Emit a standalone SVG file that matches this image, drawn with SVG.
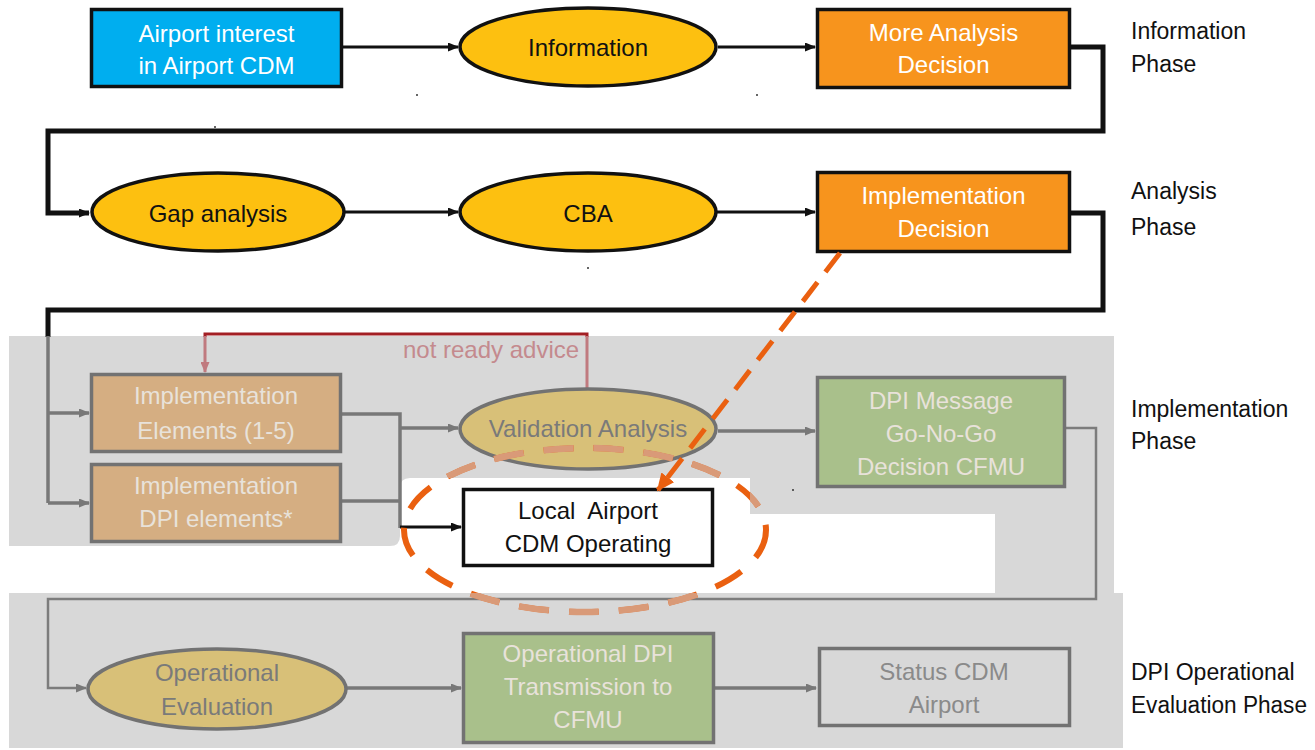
<svg xmlns="http://www.w3.org/2000/svg" width="1315" height="750" viewBox="0 0 1315 750">
  <style>
    text { font-family: "Liberation Sans", Arial, sans-serif; font-size: 24px; text-anchor: middle; }
    .phase { text-anchor: start; fill: #111; font-size: 23px; }
    .w { fill: #ffffff; }
    .k { fill: #111111; }
    .fade-light { fill: #e8e2da; }
    .fade-dark { fill: #7a7a7a; }
    .fade-red { fill: #c48a8e; text-anchor: start; }
    .box { stroke: #111; stroke-width: 3.5; }
    .fbox { stroke: #727272; stroke-width: 3.5; }
    .link { fill: none; stroke: #111; stroke-width: 3; }
    .loop { fill: none; stroke: #111; stroke-width: 5; }
    .flink { fill: none; stroke: #787878; stroke-width: 3.5; }
    .flink-thin { fill: none; stroke: #7c7c7c; stroke-width: 2.5; }
    .panel { fill: #d8d8d8; }
  </style>
  <defs>
    <marker id="arrow-black" markerUnits="userSpaceOnUse" markerWidth="11" markerHeight="9" refX="10" refY="4.5" orient="auto">
      <path d="M0,0 L11,4.5 L0,9 z" fill="#111"/>
    </marker>
    <marker id="arrow-grey" markerUnits="userSpaceOnUse" markerWidth="11" markerHeight="9" refX="10" refY="4.5" orient="auto">
      <path d="M0,0 L11,4.5 L0,9 z" fill="#787878"/>
    </marker>
    <marker id="arrow-red" markerUnits="userSpaceOnUse" markerWidth="11" markerHeight="9" refX="10" refY="4.5" orient="auto">
      <path d="M0,0 L11,4.5 L0,9 z" fill="#c07a7f"/>
    </marker>
    <marker id="arrow-orange" markerUnits="userSpaceOnUse" markerWidth="18" markerHeight="16" refX="16" refY="8" orient="auto">
      <path d="M0,0 L18,8 L0,16 z" fill="#ea6010"/>
    </marker>
    <clipPath id="panel-clip">
      <path d="M9,336 H1114 V594 H995 V514 H750 V478 H410 Q400,478 400,488 V536 Q400,546 390,546 H9 Z"/>
      <rect x="9" y="593" width="1114" height="155"/>
    </clipPath>
  </defs>

  <!-- phase backgrounds -->
  <g id="panels">
    <path class="panel" d="M9,336 H1114 V594 H995 V514 H750 V478 H410 Q400,478 400,488 V536 Q400,546 390,546 H9 Z"/>
    <rect class="panel" x="9" y="593" width="1114" height="155"/>
  </g>

  <!-- phase labels -->
  <g id="phase-labels">
    <text class="phase" x="1131" y="39">Information</text>
    <text class="phase" x="1131" y="72">Phase</text>
    <text class="phase" x="1131" y="199">Analysis</text>
    <text class="phase" x="1131" y="235">Phase</text>
    <text class="phase" x="1131" y="417">Implementation</text>
    <text class="phase" x="1131" y="449">Phase</text>
    <text class="phase" x="1131" y="680">DPI Operational</text>
    <text class="phase" x="1131" y="713" textLength="176" lengthAdjust="spacingAndGlyphs">Evaluation Phase</text>
  </g>

  <!-- connectors -->
  <g id="connectors">
    <!-- information row -->
    <line class="link" x1="343" y1="47" x2="458" y2="47" marker-end="url(#arrow-black)"/>
    <line class="link" x1="718" y1="47" x2="815" y2="47" marker-end="url(#arrow-black)"/>
    <path class="loop" d="M1071,47 H1103 V131 H48 V213 H89" marker-end="url(#arrow-black)"/>
    <!-- analysis row -->
    <line class="link" x1="345" y1="212" x2="458" y2="212" marker-end="url(#arrow-black)"/>
    <line class="link" x1="717" y1="212" x2="815" y2="212" marker-end="url(#arrow-black)"/>
    <path class="loop" d="M1071,213 H1103 V310 H48 V337"/>
    <!-- implementation row (faded) -->
    <path class="flink" d="M48,336 V503"/>
    <line class="flink" x1="48" y1="413" x2="89" y2="413" marker-end="url(#arrow-grey)"/>
    <line class="flink" x1="48" y1="503" x2="89" y2="503" marker-end="url(#arrow-grey)"/>
    <path class="flink" d="M342,414 H400 V528"/>
    <line class="flink" x1="342" y1="501" x2="400" y2="501"/>
    <line class="flink" x1="400" y1="428" x2="458" y2="428" marker-end="url(#arrow-grey)"/>
    <line class="link" x1="400" y1="527" x2="461" y2="527" marker-end="url(#arrow-black)"/>
    <line class="flink" x1="718" y1="431" x2="815" y2="431" marker-end="url(#arrow-grey)"/>
    <!-- not ready advice feedback -->
    <path fill="none" stroke="#a31f24" stroke-width="3" d="M587,337 V334 H205 V337"/>
    <path fill="none" stroke="#c07a7f" stroke-width="3" d="M587,388 V336 M205,336 V372" marker-end="url(#arrow-red)"/>
    <!-- towards operational evaluation -->
    <path class="flink-thin" d="M1066,428 H1096 V599 H48 V688 H86" marker-end="url(#arrow-grey)"/>
    <line class="flink" x1="347" y1="688" x2="461" y2="688" marker-end="url(#arrow-grey)"/>
    <line class="flink" x1="715" y1="688" x2="816" y2="688" marker-end="url(#arrow-grey)"/>
  </g>

  <!-- nodes -->
  <g id="node-airport-interest">
    <rect class="box" x="91.5" y="9.5" width="250" height="77" fill="#00aeef"/>
    <text class="w" x="216.5" y="42">Airport interest</text>
    <text class="w" x="216.5" y="74">in Airport CDM</text>
  </g>
  <g id="node-information">
    <ellipse class="box" cx="588" cy="47" rx="128" ry="39" fill="#fdc010"/>
    <text class="k" x="588" y="56">Information</text>
  </g>
  <g id="node-more-analysis">
    <rect class="box" x="817.5" y="9.5" width="252" height="78" fill="#f7941d"/>
    <text class="w" x="943.5" y="41">More Analysis</text>
    <text class="w" x="943.5" y="73">Decision</text>
  </g>
  <g id="node-gap-analysis">
    <ellipse class="box" cx="218" cy="212" rx="126" ry="39" fill="#fdc010"/>
    <text class="k" x="218" y="222">Gap analysis</text>
  </g>
  <g id="node-cba">
    <ellipse class="box" cx="588" cy="212" rx="128" ry="39" fill="#fdc010"/>
    <text class="k" x="588" y="222">CBA</text>
  </g>
  <g id="node-implementation-decision">
    <rect class="box" x="817.5" y="172.5" width="252" height="79" fill="#f7941d"/>
    <text class="w" x="943.5" y="204">Implementation</text>
    <text class="w" x="943.5" y="237">Decision</text>
  </g>
  <g id="node-implementation-elements">
    <rect class="fbox" x="91.5" y="374.5" width="249" height="77" fill="#d5ae82"/>
    <text class="fade-light" x="216" y="404">Implementation</text>
    <text class="fade-light" x="216" y="439">Elements (1-5)</text>
  </g>
  <g id="node-dpi-elements">
    <rect class="fbox" x="91.5" y="464.5" width="249" height="77" fill="#d5ae82"/>
    <text class="fade-light" x="216" y="494">Implementation</text>
    <text class="fade-light" x="216" y="527">DPI elements*</text>
  </g>
  <g id="node-validation">
    <ellipse class="fbox" cx="588" cy="429" rx="128" ry="40" fill="#d8c078"/>
    <text class="fade-dark" x="588" y="437">Validation Analysis</text>
  </g>
  <g id="node-local-airport">
    <rect class="box" x="463.5" y="489.5" width="249" height="76" fill="#ffffff"/>
    <text class="k" x="588" y="519" font-size="23" xml:space="preserve">Local  Airport</text>
    <text class="k" x="588" y="552" font-size="23">CDM Operating</text>
  </g>
  <g id="node-dpi-message">
    <rect class="fbox" x="817.5" y="377.5" width="247" height="109" fill="#a9c08b"/>
    <text class="fade-light" x="941" y="409">DPI Message</text>
    <text class="fade-light" x="941" y="442">Go-No-Go</text>
    <text class="fade-light" x="941" y="475">Decision CFMU</text>
  </g>
  <g id="node-operational-evaluation">
    <ellipse class="fbox" cx="217" cy="689" rx="129" ry="40" fill="#d8c078"/>
    <text class="fade-dark" x="217" y="681">Operational</text>
    <text class="fade-dark" x="217" y="715">Evaluation</text>
  </g>
  <g id="node-operational-dpi">
    <rect class="fbox" x="463.5" y="633.5" width="250" height="109" fill="#a9c08b"/>
    <text class="fade-light" x="588" y="662">Operational DPI</text>
    <text class="fade-light" x="588" y="695">Transmission to</text>
    <text class="fade-light" x="588" y="728">CFMU</text>
  </g>
  <g id="node-status">
    <rect class="fbox" x="819.5" y="648.5" width="250" height="77" fill="none"/>
    <text class="fade-dark" x="944" y="680" style="fill:#8a8a8a">Status CDM</text>
    <text class="fade-dark" x="944" y="713" style="fill:#8a8a8a">Airport</text>
  </g>

  <text class="fade-red" x="403" y="358">not ready advice</text>

  <!-- highlight of the operating node -->
  <g id="highlight">
    <ellipse cx="585" cy="530" rx="181" ry="82" fill="none" stroke="#ea6010" stroke-width="6" stroke-dasharray="30 20"/>
    <ellipse cx="585" cy="530" rx="181" ry="82" fill="none" stroke="#d99a78" stroke-width="6.5" stroke-dasharray="30 20" clip-path="url(#panel-clip)"/>
    <line x1="840" y1="253" x2="658" y2="490" stroke="#ea6010" stroke-width="5" stroke-dasharray="24 13" marker-end="url(#arrow-orange)"/>
  </g>

  <!-- small specks -->
  <g fill="#333">
    <circle cx="417" cy="95" r="1"/>
    <circle cx="757" cy="95" r="1"/>
    <circle cx="215" cy="127" r="1"/>
    <circle cx="588" cy="268" r="1"/>
    <circle cx="793" cy="490" r="1"/>
  </g>
</svg>
